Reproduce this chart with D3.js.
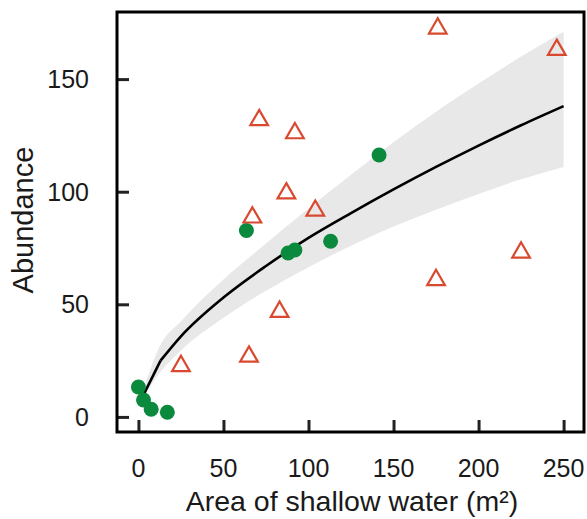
<!DOCTYPE html>
<html>
<head>
<meta charset="utf-8">
<script src="https://cdn.jsdelivr.net/npm/d3@7"></script>
<style>
  body { margin: 0; background: #fff; }
  svg text { font-family: "Liberation Sans", Arial, sans-serif; fill: #1a1a1a; }
</style>
</head>
<body>
<div id="chart"></div>
<script>
// green circles
const circleX = [0, 3, 7.5, 17, 63.5, 88, 92, 113, 141.5];
const circleY = [13.3, 7.5, 3.4, 2.1, 82.8, 72.8, 74.1, 78, 116.3];

// red triangles
const triX = [25, 65, 83, 67, 71, 92, 87, 104, 176, 246, 225, 175];
const triY = [22.6, 26.8, 46.7, 88.6, 131.8, 126, 99.3, 91.6, 172.5, 163, 73, 60.8];

// fitted curve and its band
const fitX = [0.5, 13, 25, 50, 75, 100, 125, 150, 175, 200, 225, 250];
const fitY = [6, 25, 35.8, 53, 67, 79.5, 90.5, 101, 111, 120.5, 129.5, 138];
const fitUpper = [6, 32, 42.5, 61, 77, 92.5, 107.5, 122, 135.5, 148, 160, 171];
const fitLower = [6, 20, 29.5, 44, 56, 66.5, 76, 84.5, 92, 99, 105.5, 111];

const xTicks = [0, 50, 100, 150, 200, 250];
const yTicks = [0, 50, 100, 150];

const width = 587;
const height = 519;

const plot = { left: 117, right: 584, top: 12, bottom: 432 };

const svg = d3.select("#chart")
    .append("svg")
    .attr("width", width)
    .attr("height", height);

const xScale = d3.scaleLinear()
    .domain([-12.6, 262])
    .range([plot.left, plot.right]);

const yScale = d3.scaleLinear()
    .domain([-6.7, 179.8])
    .range([plot.bottom, plot.top]);

const fit = fitX.map((x, i) => ({ x, y: fitY[i], lo: fitLower[i], hi: fitUpper[i] }));

// confidence band
svg.append("path")
    .datum(fit)
    .attr("fill", "#e8e8e8")
    .attr("d", d3.area()
        .curve(d3.curveMonotoneX)
        .x(d => xScale(d.x))
        .y0(d => yScale(d.lo))
        .y1(d => yScale(d.hi)));

// fitted line: straight first piece, smooth after the kink
const line = d3.line().x(d => xScale(d.x)).y(d => yScale(d.y));
svg.append("path")
    .datum(fit.slice(0, 2))
    .attr("fill", "none")
    .attr("stroke", "#000")
    .attr("stroke-width", 2.6)
    .attr("d", line);
svg.append("path")
    .datum(fit.slice(1))
    .attr("fill", "none")
    .attr("stroke", "#000")
    .attr("stroke-width", 2.6)
    .attr("d", line.curve(d3.curveMonotoneX));

// circles
const circles = circleX.map((x, i) => ({ x, y: circleY[i] }));
svg.append("g")
    .selectAll("circle")
    .data(circles)
    .join("circle")
    .attr("cx", d => xScale(d.x))
    .attr("cy", d => yScale(d.y))
    .attr("r", 7.5)
    .attr("fill", "#0b8a3e");

// triangles
const tris = triX.map((x, i) => ({ x, y: triY[i] }));
svg.append("g")
    .selectAll("path")
    .data(tris)
    .join("path")
    .attr("transform", d => `translate(${xScale(d.x)},${yScale(d.y)})`)
    .attr("d", d3.symbol(d3.symbolTriangle, 135))
    .attr("fill", "none")
    .attr("stroke", "#d8492f")
    .attr("stroke-width", 2.2);

// axes with inward ticks
const xAxis = svg.append("g")
    .attr("transform", `translate(0,${plot.bottom})`)
    .call(d3.axisTop(xScale).tickValues(xTicks).tickSize(12).tickFormat(""));
const yAxis = svg.append("g")
    .attr("transform", `translate(${plot.left},0)`)
    .call(d3.axisRight(yScale).tickValues(yTicks).tickSize(12).tickFormat(""));

[xAxis, yAxis].forEach(g => {
    g.select(".domain").remove();
    g.selectAll("line").attr("stroke", "#222").attr("stroke-width", 3);
});

// tick labels
svg.append("g")
    .selectAll("text")
    .data(xTicks)
    .join("text")
    .attr("x", d => xScale(d))
    .attr("y", 477)
    .attr("text-anchor", "middle")
    .style("font-size", "25px")
    .text(d => d);

svg.append("g")
    .selectAll("text")
    .data(yTicks)
    .join("text")
    .attr("x", 89)
    .attr("y", d => yScale(d))
    .attr("dy", "0.36em")
    .attr("text-anchor", "end")
    .style("font-size", "25px")
    .text(d => d);

// frame
svg.append("rect")
    .attr("x", plot.left)
    .attr("y", plot.top)
    .attr("width", plot.right - plot.left)
    .attr("height", plot.bottom - plot.top)
    .attr("fill", "none")
    .attr("stroke", "#000")
    .attr("stroke-width", 3);

// axis titles
svg.append("text")
    .attr("x", 352)
    .attr("y", 511)
    .attr("text-anchor", "middle")
    .style("font-size", "28.5px")
    .text("Area of shallow water (m²)");

svg.append("text")
    .attr("transform", "translate(33,220) rotate(-90)")
    .attr("text-anchor", "middle")
    .style("font-size", "29px")
    .text("Abundance");
</script>
</body>
</html>
